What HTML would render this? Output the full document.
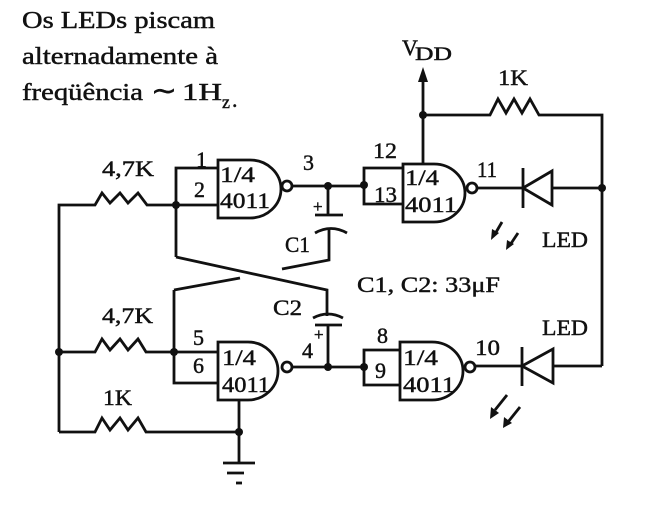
<!DOCTYPE html>
<html><head><meta charset="utf-8"><style>
html,body{margin:0;padding:0;background:#fff;}
svg{display:block;}
text{font-family:"Liberation Serif",serif;fill:#111;stroke:#111;stroke-width:0.45;}
</style></head><body>
<svg width="650" height="506" viewBox="0 0 650 506" xmlns="http://www.w3.org/2000/svg">
<rect width="650" height="506" fill="#fff"/>
<!-- Title -->
<text x="22" y="28" font-size="24" textLength="193" lengthAdjust="spacingAndGlyphs">Os LEDs piscam</text>
<text x="22" y="64" font-size="24" textLength="196" lengthAdjust="spacingAndGlyphs">alternadamente à</text>
<text x="22" y="100" font-size="24" textLength="121" lengthAdjust="spacingAndGlyphs">freqüência</text>
<text x="151" y="100" font-size="28" textLength="26" lengthAdjust="spacingAndGlyphs">∼</text>
<text x="182" y="100" font-size="24" textLength="40" lengthAdjust="spacingAndGlyphs">1H</text>
<text x="222" y="108" font-size="18">z</text>
<text x="232" y="107" font-size="22">.</text>

<g fill="none" stroke="#111" stroke-width="2.8" stroke-linejoin="miter">
<!-- Gates -->
<path d="M218,160 H250 A31,29 0 0 1 250,218 H218 Z"/>
<path d="M403,164 H434 A31,29 0 0 1 434,222 H403 Z"/>
<path d="M218,342 H248 A30,29 0 0 1 248,400 H218 Z"/>
<path d="M400,342 H432 A31,29 0 0 1 432,400 H400 Z"/>
<!-- bubbles -->
<circle cx="287" cy="186" r="5"/>
<circle cx="472" cy="188" r="5"/>
<circle cx="287" cy="367" r="5"/>
<circle cx="470" cy="367" r="5"/>

<!-- Gate A inputs -->
<path d="M218,168 H176 V257"/>
<!-- R1 top 4,7K -->
<path d="M59,432 V205 H95 L102,193 L110,203 L120,193 L128,203 L138,193 L147,205 H218"/>
<!-- Gate A output to gate B -->
<path d="M292,186 H364"/>
<path d="M403,168 H364 V204 H403"/>
<!-- VDD -->
<path d="M423,80 V164"/>
<path d="M423,115 H490 L498,99 L506,113 L514,99 L522,113 L530,99 L539,115 H602 V366"/>
<!-- Gate B output & LED1 -->
<path d="M477,188 H523"/>
<path d="M523,168 V208"/>
<path d="M523,188 L552,171 L552,205 Z"/>
<path d="M552,188 H602"/>

<!-- C1 -->
<path d="M328,186 V215"/>
<path d="M315,215 H343"/>
<path d="M315,233 Q331,224 347,233"/>
<path d="M329,229 V260 L282,269"/>
<!-- crossing -->
<path d="M176,257 L327,290 V316"/>
<path d="M174,290 L240,278"/>
<!-- C2 -->
<path d="M313,318 Q328,310 343,318"/>
<path d="M315,325 H342"/>
<path d="M328,325 V367"/>

<!-- Gate C inputs -->
<path d="M174,290 V383 H218"/>
<path d="M59,352 H95 L102,339 L110,350 L120,339 L128,350 L138,339 L146,352 H218"/>
<!-- R3 1K -->
<path d="M59,432 H95 L102,418 L110,430 L120,418 L128,430 L138,418 L146,432 H239"/>
<!-- ground -->
<path d="M239,400 V463"/>
<path d="M223,463 H255"/>
<path d="M227,473 H244"/>
<path d="M236,483 H242"/>

<!-- Gate C output to gate D -->
<path d="M292,367 H364"/>
<path d="M400,350 H364 V385 H400"/>
<!-- Gate D output & LED2 -->
<path d="M475,366 H522"/>
<path d="M522,347 V386"/>
<path d="M522,366 L553,349 L553,383 Z"/>
<path d="M553,366 H602"/>

<!-- LED arrows -->
<path d="M502,222 L495,234"/>
<path d="M518,233 L510,245"/>
<path d="M507,395 L495,410"/>
<path d="M520,407 L508,422"/>
</g>
<g fill="#111" stroke="none">
<polygon points="423,67 418,82 428,82"/>
<!-- dots -->
<circle cx="176" cy="205" r="4"/>
<circle cx="328" cy="186" r="4"/>
<circle cx="364" cy="185" r="4"/>
<circle cx="423" cy="115" r="4"/>
<circle cx="602" cy="188" r="4"/>
<circle cx="59" cy="352" r="4"/>
<circle cx="174" cy="352" r="4"/>
<circle cx="239" cy="432" r="4"/>
<circle cx="328" cy="367" r="4"/>
<circle cx="364" cy="367" r="4"/>
<!-- arrowheads -->
<polygon points="491,240 492,229 499,233"/>
<polygon points="506,250 507,240 514,244"/>
<polygon points="490,419 491,407 499,413"/>
<polygon points="503,428 504,417 512,423"/>
</g>

<!-- Gate labels -->
<g font-size="22">
<text x="220" y="182" textLength="35" lengthAdjust="spacingAndGlyphs">1/4</text>
<text x="220" y="208" textLength="50" lengthAdjust="spacingAndGlyphs">4011</text>
<text x="405" y="185" textLength="34" lengthAdjust="spacingAndGlyphs">1/4</text>
<text x="405" y="212" textLength="52" lengthAdjust="spacingAndGlyphs">4011</text>
<text x="222" y="365" textLength="34" lengthAdjust="spacingAndGlyphs">1/4</text>
<text x="222" y="392" textLength="48" lengthAdjust="spacingAndGlyphs">4011</text>
<text x="403" y="365" textLength="35" lengthAdjust="spacingAndGlyphs">1/4</text>
<text x="403" y="392" textLength="52" lengthAdjust="spacingAndGlyphs">4011</text>
<!-- pins -->
<text x="196" y="167">1</text>
<text x="194" y="197">2</text>
<text x="303" y="170">3</text>
<text x="373" y="158" textLength="24" lengthAdjust="spacingAndGlyphs">12</text>
<text x="374" y="202" textLength="23" lengthAdjust="spacingAndGlyphs">13</text>
<text x="477" y="177" textLength="20" lengthAdjust="spacingAndGlyphs">11</text>
<text x="193" y="345">5</text>
<text x="193" y="373">6</text>
<text x="302" y="358">4</text>
<text x="377" y="343">8</text>
<text x="375" y="378">9</text>
<text x="475" y="355" textLength="25" lengthAdjust="spacingAndGlyphs">10</text>
<!-- resistors -->
<text x="102" y="176" textLength="52" lengthAdjust="spacingAndGlyphs">4,7K</text>
<text x="102" y="323" textLength="51" lengthAdjust="spacingAndGlyphs">4,7K</text>
<text x="498" y="85" textLength="30" lengthAdjust="spacingAndGlyphs">1K</text>
<text x="103" y="405" textLength="29" lengthAdjust="spacingAndGlyphs">1K</text>
<!-- caps -->
<text x="285" y="252" textLength="25" lengthAdjust="spacingAndGlyphs">C1</text>
<text x="273" y="315" textLength="29" lengthAdjust="spacingAndGlyphs">C2</text>
<text x="357" y="292" textLength="143" lengthAdjust="spacingAndGlyphs">C1, C2: 33μF</text>
<text x="542" y="247" textLength="46" lengthAdjust="spacingAndGlyphs">LED</text>
<text x="542" y="335" textLength="46" lengthAdjust="spacingAndGlyphs">LED</text>
<text x="402" y="55">V</text>
</g>
<text x="415" y="60" font-size="19" textLength="37" lengthAdjust="spacingAndGlyphs">DD</text>
<text x="313" y="212" font-size="17">+</text>
<text x="314" y="340" font-size="17">+</text>
</svg>
</body></html>
